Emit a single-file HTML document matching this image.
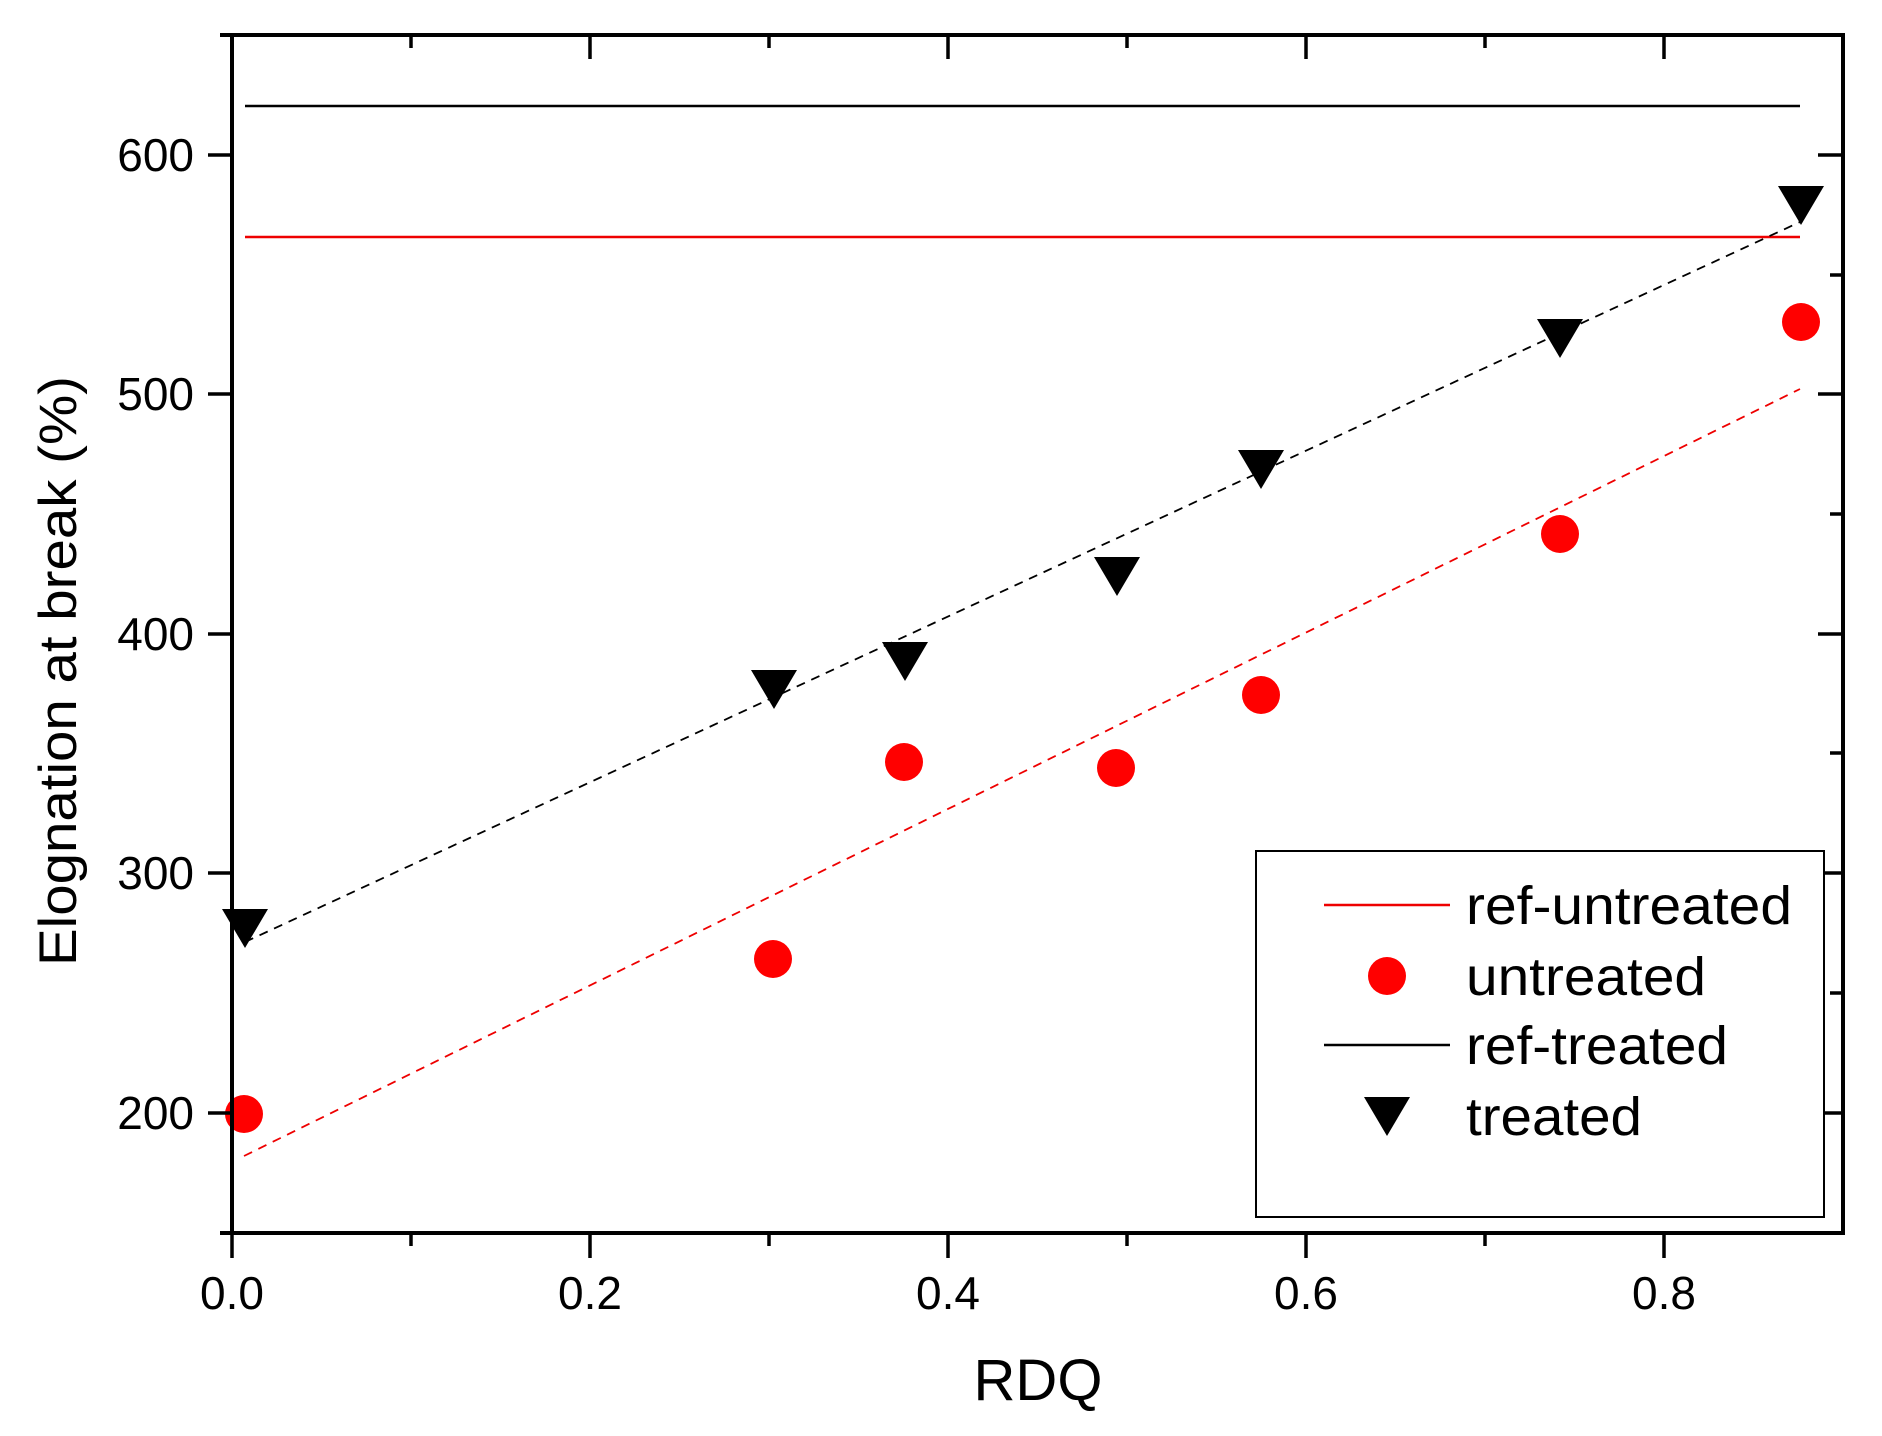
<!DOCTYPE html>
<html><head><meta charset="utf-8"><style>html,body{margin:0;padding:0;background:#fff}svg{display:block}</style></head>
<body>
<svg width="1882" height="1436" viewBox="0 0 1882 1436" xmlns="http://www.w3.org/2000/svg" font-family="Liberation Sans, Arial, sans-serif">
<rect width="1882" height="1436" fill="#fff"/>
<line x1="245" y1="106" x2="1800" y2="106" stroke="#000" stroke-width="2.5"/>
<line x1="245" y1="237" x2="1800" y2="237" stroke="#e00" stroke-width="2.5"/>
<line x1="244" y1="1156" x2="1800" y2="389" stroke="#e00" stroke-width="1.8" stroke-dasharray="9,7"/>
<line x1="245" y1="942" x2="1800" y2="222" stroke="#000" stroke-width="1.8" stroke-dasharray="9,7"/>
<g fill="#f00">
<circle cx="244" cy="1114" r="19"/>
<circle cx="773" cy="959" r="19"/>
<circle cx="904" cy="762" r="19"/>
<circle cx="1116" cy="768" r="19"/>
<circle cx="1261" cy="695" r="19"/>
<circle cx="1560" cy="534" r="19"/>
<circle cx="1801" cy="322" r="19"/>
</g>
<g fill="#000">
<polygon points="222,909 268,909 245,948"/>
<polygon points="751,670 797,670 774,709"/>
<polygon points="882,642 928,642 905,681"/>
<polygon points="1094,557 1140,557 1117,596"/>
<polygon points="1238,450 1284,450 1261,489"/>
<polygon points="1537,319 1583,319 1560,358"/>
<polygon points="1778,186 1824,186 1801,225"/>
</g>
<g stroke="#000" stroke-width="4" fill="none">
<line x1="220" y1="35" x2="1845" y2="35"/>
<line x1="220" y1="1233" x2="1845" y2="1233"/>
<line x1="232" y1="33" x2="232" y2="1235"/>
<line x1="1843" y1="33" x2="1843" y2="1235"/>
</g>
<g stroke="#000" stroke-width="3.5">
<line x1="411" y1="35" x2="411" y2="48"/>
<line x1="590" y1="35" x2="590" y2="59"/>
<line x1="769" y1="35" x2="769" y2="48"/>
<line x1="948" y1="35" x2="948" y2="59"/>
<line x1="1127" y1="35" x2="1127" y2="48"/>
<line x1="1306" y1="35" x2="1306" y2="59"/>
<line x1="1485" y1="35" x2="1485" y2="48"/>
<line x1="1664" y1="35" x2="1664" y2="59"/>
<line x1="232" y1="1233" x2="232" y2="1258"/>
<line x1="411" y1="1233" x2="411" y2="1246"/>
<line x1="590" y1="1233" x2="590" y2="1258"/>
<line x1="769" y1="1233" x2="769" y2="1246"/>
<line x1="948" y1="1233" x2="948" y2="1258"/>
<line x1="1127" y1="1233" x2="1127" y2="1246"/>
<line x1="1306" y1="1233" x2="1306" y2="1258"/>
<line x1="1485" y1="1233" x2="1485" y2="1246"/>
<line x1="1664" y1="1233" x2="1664" y2="1258"/>
<line x1="208" y1="155" x2="232" y2="155"/>
<line x1="208" y1="394" x2="232" y2="394"/>
<line x1="208" y1="634" x2="232" y2="634"/>
<line x1="208" y1="873" x2="232" y2="873"/>
<line x1="208" y1="1113" x2="232" y2="1113"/>
<line x1="1818" y1="155" x2="1843" y2="155"/>
<line x1="1830" y1="275" x2="1843" y2="275"/>
<line x1="1818" y1="394" x2="1843" y2="394"/>
<line x1="1830" y1="514" x2="1843" y2="514"/>
<line x1="1818" y1="634" x2="1843" y2="634"/>
<line x1="1830" y1="753" x2="1843" y2="753"/>
<line x1="1818" y1="873" x2="1843" y2="873"/>
<line x1="1830" y1="993" x2="1843" y2="993"/>
<line x1="1818" y1="1113" x2="1843" y2="1113"/>
</g>
<g font-size="46" fill="#000" text-anchor="end">
<text x="194" y="171">600</text>
<text x="194" y="410">500</text>
<text x="194" y="650">400</text>
<text x="194" y="889">300</text>
<text x="194" y="1129">200</text>
</g>
<g font-size="46" fill="#000" text-anchor="middle">
<text x="232" y="1309">0.0</text>
<text x="590" y="1309">0.2</text>
<text x="948" y="1309">0.4</text>
<text x="1306" y="1309">0.6</text>
<text x="1664" y="1309">0.8</text>
</g>
<text x="1038" y="1400" font-size="58" text-anchor="middle" fill="#000">RDQ</text>
<text transform="translate(76,966) rotate(-90)" font-size="53" fill="#000" textLength="590" lengthAdjust="spacingAndGlyphs">Elognation at break (%)</text>
<rect x="1256" y="851" width="568" height="366" fill="#fff" stroke="#000" stroke-width="2"/>
<line x1="1324" y1="905" x2="1450" y2="905" stroke="#e00" stroke-width="2.5"/>
<circle cx="1387" cy="976" r="19" fill="#f00"/>
<line x1="1324" y1="1045" x2="1450" y2="1045" stroke="#000" stroke-width="2.5"/>
<polygon points="1364,1097 1410,1097 1387,1136" fill="#000"/>
<g font-size="54" fill="#000">
<text x="1466" y="924" textLength="326" lengthAdjust="spacingAndGlyphs">ref-untreated</text>
<text x="1466" y="995" textLength="240" lengthAdjust="spacingAndGlyphs">untreated</text>
<text x="1466" y="1064" textLength="262" lengthAdjust="spacingAndGlyphs">ref-treated</text>
<text x="1466" y="1135" textLength="176" lengthAdjust="spacingAndGlyphs">treated</text>
</g>
</svg>
</body></html>
